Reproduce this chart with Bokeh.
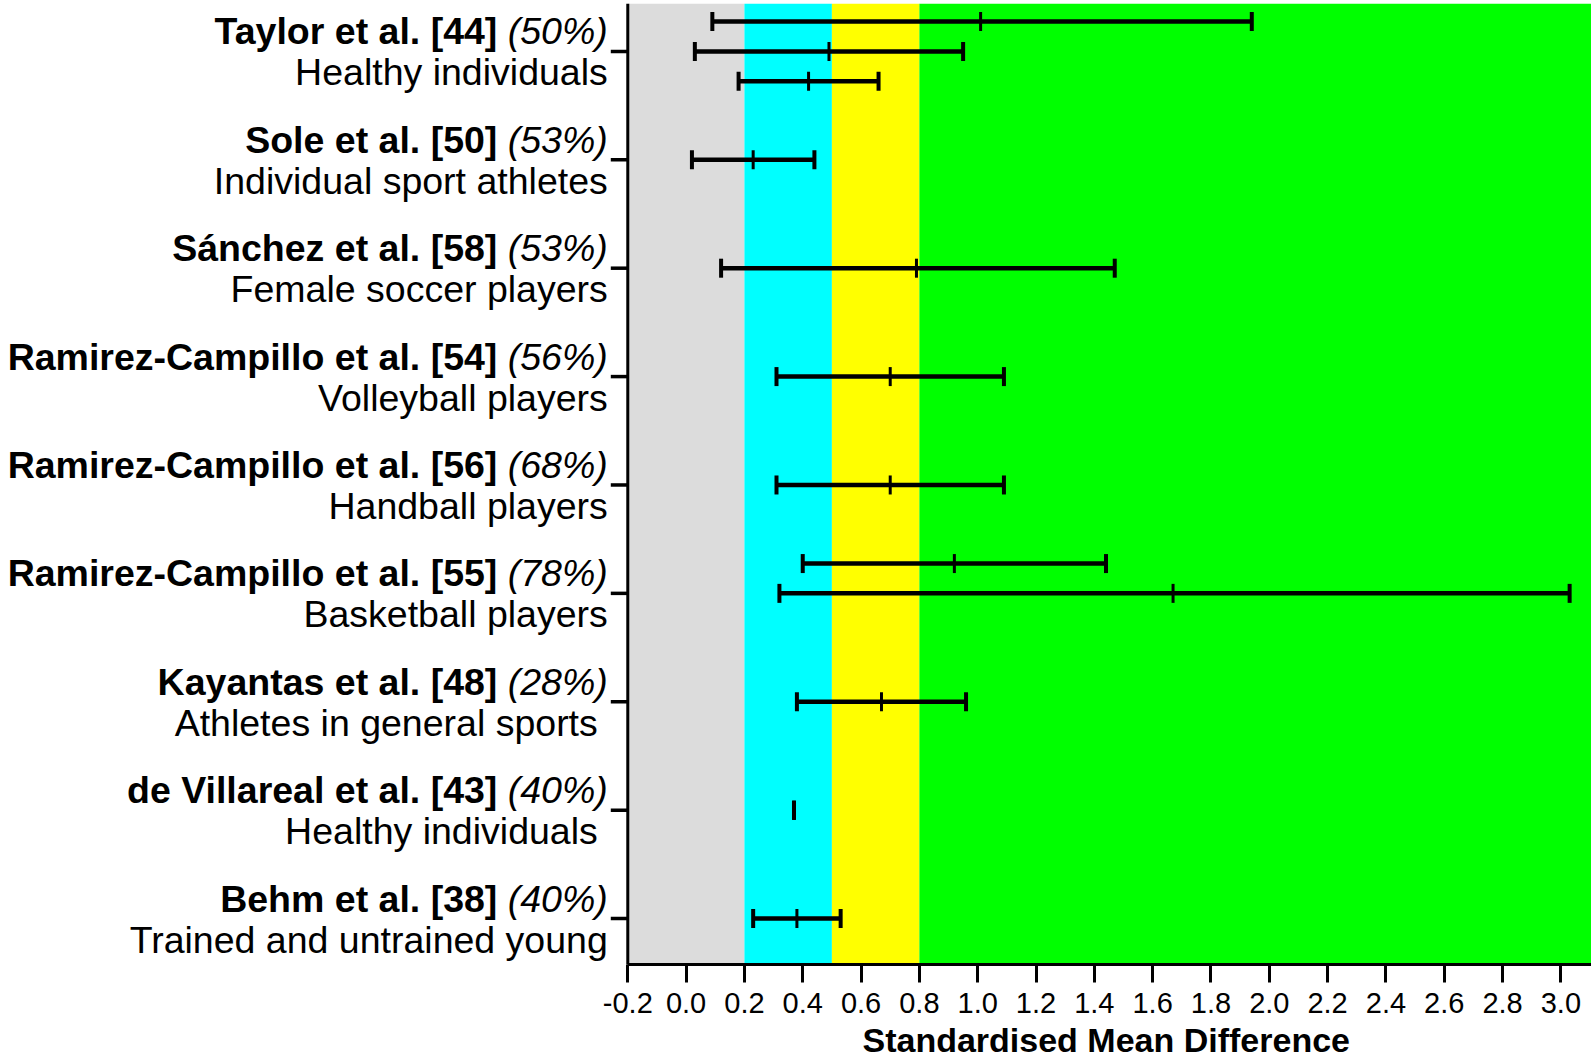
import numpy as np
from bokeh.plotting import figure
from bokeh.models import FixedTicker, BoxAnnotation, Range1d, PrintfTickFormatter, Span, Title
from bokeh.core.properties import value
from bokeh.embed import file_html
from bokeh.resources import INLINE

# ---------------- data ----------------
studies = ["Taylor et al. [44]", "Sole et al. [50]", "Sánchez et al. [58]",
           "Ramirez-Campillo et al. [54]", "Ramirez-Campillo et al. [56]",
           "Ramirez-Campillo et al. [55]", "Kayantas et al. [48]",
           "de Villareal et al. [43]", "Behm et al. [38]"]
quality = ["(50%)", "(53%)", "(53%)", "(56%)", "(68%)", "(78%)", "(28%)", "(40%)", "(40%)"]
populations = ["Healthy individuals", "Individual sport athletes", "Female soccer players",
               "Volleyball players", "Handball players", "Basketball players",
               "Athletes in general sports", "Healthy individuals", "Trained and untrained young"]

bar_study = [0, 0, 0, 1, 2, 3, 4, 5, 5, 6, 7, 8]
smd_lower = [0.09, 0.03, 0.18, 0.02, 0.12, 0.31, 0.31, 0.40, 0.32, 0.38, 0.37, 0.23]
smd_mean = [1.01, 0.49, 0.42, 0.23, 0.79, 0.70, 0.70, 0.92, 1.67, 0.67, 0.37, 0.38]
smd_upper = [1.94, 0.95, 0.66, 0.44, 1.47, 1.09, 1.09, 1.44, 3.03, 0.96, 0.37, 0.53]

zone_edges = [-0.2, 0.2, 0.5, 0.8, 3.2]
x_ticks = [-0.2, 0.0, 0.2, 0.4, 0.6, 0.8, 1.0, 1.2, 1.4, 1.6, 1.8, 2.0, 2.2, 2.4, 2.6, 2.8, 3.0]
x_title = "Standardised Mean Difference"

# ---------------- styles ----------------
zone_colors = ["#dcdcdc", "#00ffff", "#ffff00", "#00ff00"]
bar_lane = [1, 0, -1, 0, 0, 0, 0, 1, 0, 0, 0, 0]
lane_gap = 0.275
pop_pad = [0, 0, 0, 0, 0, 0, 10, 10, 0]
FONT = "Liberation Sans"
LBL_SIZE = 37.5
X0 = -0.2          # position of the vertical axis (data units)
X_END = 3.105

n = len(studies)
# frame covers the whole canvas width; left part holds the study labels
x_start = X0 - 627.3 / 291.6
p = figure(width=1591, height=1061,
           x_range=Range1d(x_start, X_END), y_range=Range1d(0.576, 9.442),
           output_backend="svg", toolbar_location=None, y_axis_location=None,
           min_border_left=0, min_border_right=0, min_border_top=3, min_border_bottom=96)
p.outline_line_color = None
p.xgrid.visible = False
p.ygrid.visible = False
p.background_fill_color = "white"
p.border_fill_color = "white"

for i, c in enumerate(zone_colors):
    p.add_layout(BoxAnnotation(left=zone_edges[i], right=zone_edges[i + 1],
                               fill_color=c, fill_alpha=1, line_color=None, level="underlay"))

# vertical axis line and ticks at x = X0
p.add_layout(Span(location=X0, dimension="height", line_color="black", line_width=3))
rows = list(range(n, 0, -1))
p.ray(x=[X0] * n, y=rows, length=17, length_units="screen", angle=np.pi,
      line_color="black", line_width=3.5)

# error bars
y = [(n - bar_study[k]) + bar_lane[k] * lane_gap for k in range(len(bar_study))]
p.segment(x0=smd_lower, y0=y, x1=smd_upper, y1=y, line_color="black", line_width=4.5)
p.scatter(x=smd_lower + smd_upper, y=y + y, marker="dash", angle=np.pi / 2,
          size=19, line_color="black", line_width=4)
p.scatter(x=smd_mean, y=y, marker="dash", angle=np.pi / 2,
          size=19, line_color="black", line_width=3)

# x axis
xa = p.xaxis[0]
xa.bounds = (X0, X_END)
xa.ticker = FixedTicker(ticks=x_ticks)
xa.formatter = PrintfTickFormatter(format="%.1f")
xa.axis_line_width = 3
xa.axis_line_color = "black"
xa.major_tick_line_width = 3
xa.major_tick_line_color = "black"
xa.major_tick_out = 18
xa.major_tick_in = 0
xa.minor_tick_out = 0
xa.minor_tick_in = 0
xa.major_label_standoff = 10
xa.major_label_text_font = FONT
xa.major_label_text_font_size = "29px"
xa.major_label_text_color = "black"

# axis title, centred under the SMD scale
p.add_layout(Title(text=x_title, align="left", offset=862, standoff=6,
                   text_font=FONT, text_font_style="bold", text_font_size="34px",
                   text_color="black"), "below")

# row labels
pct_w = (2.667 + 0.278) * LBL_SIZE
common = dict(text_align="right", text_baseline="alphabetic", text_font=value(FONT),
              text_font_size=f"{LBL_SIZE}px", text_color="black")
p.text(x=[X0] * n, y=rows, text=quality, x_offset=-20, y_offset=-20,
       text_font_style="italic", **common)
p.text(x=[X0] * n, y=rows, text=studies, x_offset=-20 - pct_w, y_offset=-20,
       text_font_style="bold", **common)
p.text(x=[X0] * n, y=rows, text=populations, x_offset=[-20 - d for d in pop_pad], y_offset=21,
       text_font_style="normal", **common)

open("out.html", "w").write(file_html(p, INLINE))
